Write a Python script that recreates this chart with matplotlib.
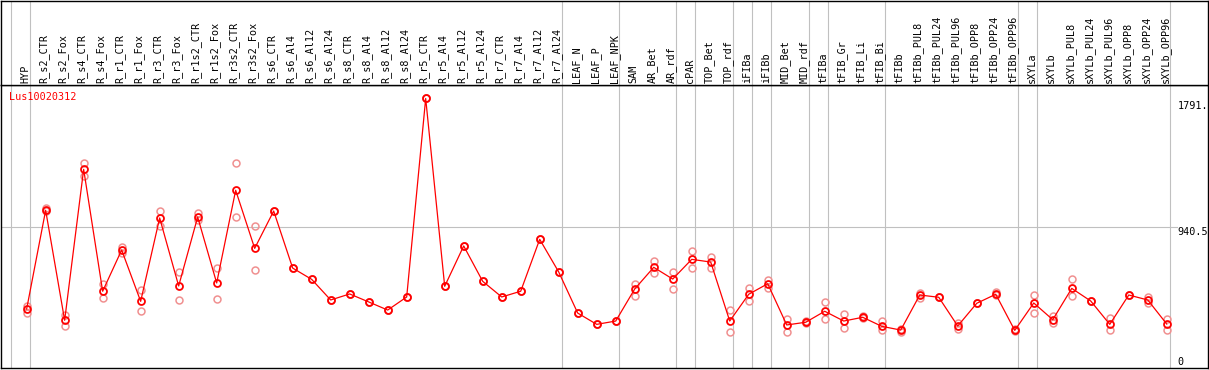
import matplotlib
matplotlib.use('Agg')
import matplotlib.pyplot as plt

plt.rcParams['font.family'] = 'DejaVu Sans Mono'

# 샘플 이름
samples = ['HYP', 'R_s2_CTR', 'R_s2_Fox', 'R_s4_CTR', 'R_s4_Fox', 'R_r1_CTR', 'R_r1_Fox',
           'R_r3_CTR', 'R_r3_Fox', 'R_r1s2_CTR', 'R_r1s2_Fox', 'R_r3s2_CTR', 'R_r3s2_Fox',
           'R_s6_CTR', 'R_s6_Al4', 'R_s6_Al12', 'R_s6_Al24', 'R_s8_CTR', 'R_s8_Al4',
           'R_s8_Al12', 'R_s8_Al24', 'R_r5_CTR', 'R_r5_Al4', 'R_r5_Al12', 'R_r5_Al24',
           'R_r7_CTR', 'R_r7_Al4', 'R_r7_Al12', 'R_r7_Al24', 'LEAF_N', 'LEAF_P', 'LEAF_NPK',
           'SAM', 'AR_Bet', 'AR_rdf', 'cPAR', 'TOP_Bet', 'TOP_rdf', 'iFIBa', 'iFIBb',
           'MID_Bet', 'MID_rdf', 'tFIBa', 'tFIB_Gr', 'tFIB_Li', 'tFIB_Bi', 'tFIBb',
           'tFIBb_PUL8', 'tFIBb_PUL24', 'tFIBb_PUL96', 'tFIBb_OPP8', 'tFIBb_OPP24',
           'tFIBb_OPP96', 'sXYLa', 'sXYLb', 'sXYLb_PUL8', 'sXYLb_PUL24', 'sXYLb_PUL96',
           'sXYLb_OPP8', 'sXYLb_OPP24', 'sXYLb_OPP96']

# 평균 발현값
mean_vals = [392, 1048, 317, 1320, 510, 784, 443, 997, 545, 1003, 565, 1181, 795,
             1043, 664, 589, 452, 492, 439, 385, 472, 1791, 543, 811, 576, 472, 510,
             855, 638, 365, 290, 312, 525, 669, 591, 722, 704, 312, 490, 560, 286, 304,
             377, 312, 337, 277, 252, 485, 470, 279, 430, 490, 250, 432, 321, 529, 445,
             290, 485, 452, 292]

# 반복 측정값 (2개)
rep_a = [412, 1060, 352, 1362, 558, 806, 518, 1043, 638, 1028, 664, 1360, 941,
         1043, 664, 589, 452, 492, 439, 385, 472, 1791, 543, 811, 576, 472, 510,
         855, 638, 365, 290, 312, 560, 711, 640, 777, 740, 383, 529, 583, 326, 310,
         439, 359, 345, 312, 262, 500, 470, 297, 430, 507, 258, 485, 343, 591, 445,
         332, 485, 474, 328]
rep_b = [367, 1040, 279, 1276, 463, 762, 379, 944, 452, 983, 456, 1001, 649,
         1043, 664, 589, 452, 492, 439, 385, 472, 1791, 543, 811, 576, 472, 510,
         855, 638, 365, 290, 312, 480, 629, 527, 662, 662, 237, 447, 532, 237, 300,
         328, 268, 330, 255, 237, 465, 470, 261, 430, 485, 245, 363, 297, 478, 445,
         250, 485, 430, 250]

# 그룹 구분선 (해당 샘플 뒤)
group_ends = [-1, 0, 28, 31, 34, 35, 37, 38, 39, 41, 42, 45, 52, 53, 60]

gene = 'Lus10020312'
ymax = 1880.5

W, H = 1209, 370
fig = plt.figure(figsize=(W / 100, H / 100), dpi=100)

x0, x1 = -1.35, 62.17
ax = fig.add_axes([1 / W, (H - 368) / H, 1207 / W, 283 / H])
axh = fig.add_axes([1 / W, (H - 85) / H, 1207 / W, 85 / H - 0.5 / H])

for a in (ax, axh):
    a.set_xlim(x0, x1)
    a.set_xticks([])
    a.set_yticks([])
    for s in a.spines.values():
        s.set_color('black')
        s.set_linewidth(1.0)
    for g in group_ends:
        a.axvline(g + 0.19, color='#c0c0c0', linewidth=0.8, zorder=1)

ax.set_ylim(0, ymax)
axh.set_ylim(0, 1)

ax.plot([x0, 60.54], [ymax / 2, ymax / 2], color='#c0c0c0', linewidth=0.8, zorder=1)

xs = list(range(len(samples)))
ax.plot(xs, rep_a, 'o', ms=5, mfc='none', mec='#f09090', mew=1.1, zorder=2)
ax.plot(xs, rep_b, 'o', ms=5, mfc='none', mec='#f09090', mew=1.1, zorder=2)
ax.plot(xs, mean_vals, '-o', color='red', lw=0.9, ms=5, mfc='none', mec='red', mew=1.3, zorder=3)

for i, name in enumerate(samples):
    axh.text(i - 0.08, 0.025, name, rotation=90, ha='center', va='bottom', fontsize=7.3)

ax.text(0.007, 0.958, gene, color='red', fontsize=7.3, ha='left', va='center', transform=ax.transAxes)

ax.text(0.975, (368 - 106) / 283, '1791.', fontsize=7.3, ha='left', va='center', transform=ax.transAxes)
ax.text(0.975, (368 - 232) / 283, '940.5', fontsize=7.3, ha='left', va='center', transform=ax.transAxes)
ax.text(0.975, (368 - 362) / 283, '0', fontsize=7.3, ha='left', va='center', transform=ax.transAxes)

fig.savefig('out.png', dpi=100)
